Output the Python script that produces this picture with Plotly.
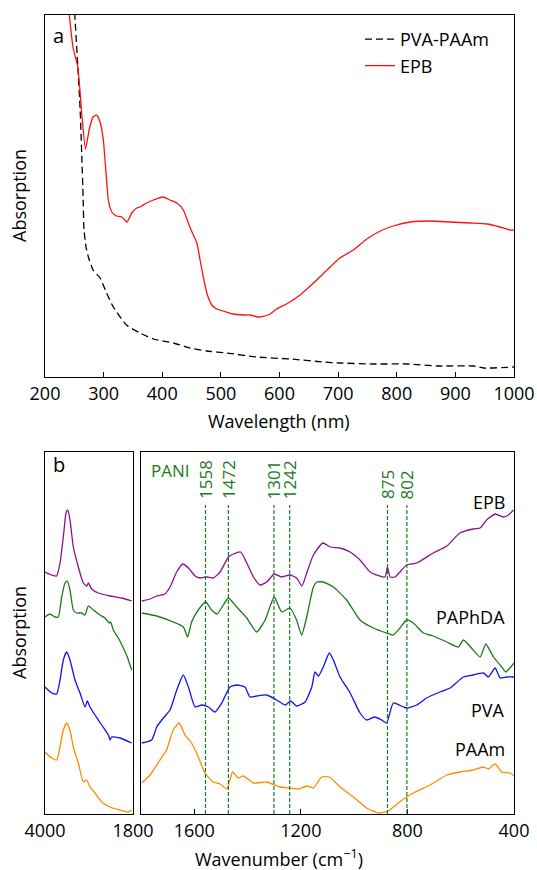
import plotly.graph_objects as go

# ---------------- Panel a: UV-vis absorption (arbitrary units) ----------------
wl_epb = [238, 241.5, 248, 256, 262.6, 269, 276, 282, 288, 294, 299.5, 305, 308, 314,
          322, 331, 340, 348, 356.5, 362, 373.5, 385, 401, 413, 425, 436, 447, 459,
          464.5, 470, 476, 484.5, 493, 504, 521, 538, 550, 564, 581, 595, 612, 635,
          658, 681, 703, 726, 749, 772, 794, 823, 857, 891, 925, 954, 976, 993, 1000]
abs_epb = [387, 362, 329, 310, 264, 228, 249, 260, 262, 255, 237, 197, 177, 165,
           161, 160, 155, 164, 169, 170, 174, 177, 180, 177, 174, 167, 150, 134,
           117, 100, 84, 72, 68, 66, 63, 62, 62, 60, 62, 68, 73, 82,
           94, 107, 119, 127, 138, 146, 151, 155, 156, 155, 154, 153, 150, 147, 147]

wl_gel = [247, 251, 256, 260, 263, 265, 266.5, 270, 274, 282, 294, 305, 316.5, 339,
          362, 385, 419, 447, 476, 510, 561, 618, 675, 703, 760, 817, 874, 931, 948, 1000]
abs_gel = [397, 360, 310, 267, 217, 180, 147, 130, 120, 107, 99, 84, 70, 52,
           44, 38, 34, 29, 26, 24, 20, 18, 15, 14, 13, 13, 11, 11, 9, 10]

# ---------------- Panel b: FTIR (arbitrary units, offset traces) ----------------
# high-wavenumber window 4000-1800 cm-1
wn_hi_epb = [4000, 3833, 3708, 3625, 3542, 3475, 3433, 3375, 3292, 3167, 3042, 2958,
             2917, 2833, 2667, 2375, 2083, 1833]
ab_hi_epb = [242, 239, 238, 251, 277, 301, 304, 294, 267, 247, 231, 228,
             231, 225, 221, 218, 216, 213]

wn_hi_paphda = [4000, 3875, 3750, 3667, 3583, 3500, 3442, 3375, 3292, 3208, 3083, 3000,
                2917, 2792, 2625, 2500, 2392, 2358, 2292, 2167, 2042, 1942, 1833]
ab_hi_paphda = [197, 200, 197, 197, 217, 231, 233, 224, 204, 201, 201, 199,
                208, 204, 199, 196, 191, 192, 184, 176, 166, 157, 144]

wn_hi_pva = [4000, 3833, 3708, 3625, 3542, 3458, 3375, 3250, 3125, 3000, 2942, 2875,
             2750, 2583, 2417, 2375, 2333, 2125, 1833]
ab_hi_pva = [127, 121, 120, 134, 154, 162, 154, 134, 121, 107, 113, 107,
             99, 89, 79, 74, 77, 76, 71]

wn_hi_paam = [4000, 3833, 3708, 3625, 3542, 3458, 3375, 3292, 3167, 3042, 2958, 2875,
              2750, 2583, 2375, 2125, 1917, 1833]
ab_hi_paam = [62, 56, 54, 67, 84, 91, 84, 67, 51, 32, 34, 27,
              21, 12, 7, 4, 2, 4]

# fingerprint window 1800-400 cm-1
wn_lo_epb = [1797, 1766, 1741, 1710, 1691, 1666, 1643, 1622, 1597, 1579, 1553, 1529,
             1503, 1472, 1453, 1426, 1403, 1378, 1353, 1328, 1300, 1272, 1241, 1216,
             1196, 1178, 1153, 1118, 1090, 1053, 1015, 978, 940, 884, 875, 865, 847,
             803, 765, 703, 652, 603, 553, 527, 503, 471, 440, 421, 402]
ab_lo_epb = [213, 215, 218, 220, 227, 242, 250, 246, 238, 236, 237, 236,
             242, 257, 260, 262, 251, 237, 229, 232, 240, 237, 239, 236,
             228, 241, 259, 271, 267, 266, 262, 254, 242, 237, 247, 237, 237,
             249, 251, 261, 268, 281, 285, 286, 294, 300, 297, 299, 304]

wn_lo_paphda = [1797, 1741, 1679, 1641, 1625, 1610, 1585, 1557, 1535, 1514, 1491, 1472,
                1441, 1403, 1366, 1334, 1300, 1272, 1241, 1216, 1197, 1178, 1153, 1140,
                1116, 1078, 1028, 978, 928, 878, 853, 828, 803, 778, 740, 703,
                652, 609, 590, 553, 527, 506, 477, 446, 431, 415, 400]
ab_lo_paphda = [201, 198, 192, 187, 177, 192, 204, 212, 204, 200, 209, 216,
                207, 196, 182, 194, 217, 202, 206, 194, 179, 197, 227, 232,
                232, 227, 214, 194, 186, 181, 179, 186, 194, 191, 181, 178,
                172, 167, 174, 164, 157, 170, 157, 147, 142, 146, 151]

wn_lo_pva = [1797, 1760, 1741, 1716, 1691, 1666, 1641, 1622, 1597, 1572, 1547, 1522,
             1497, 1466, 1441, 1410, 1391, 1366, 1328, 1291, 1259, 1238, 1216, 1184,
             1159, 1147, 1134, 1116, 1093, 1078, 1053, 1015, 978, 953, 922, 897,
             878, 853, 815, 803, 765, 728, 678, 640, 590, 553, 515, 496, 471,
             452, 427, 400]
ab_lo_pva = [71, 74, 87, 96, 104, 124, 139, 127, 107, 109, 107, 102,
             111, 127, 129, 127, 117, 118, 119, 114, 109, 113, 108, 112,
             127, 142, 138, 147, 161, 154, 137, 121, 101, 94, 97, 94,
             91, 111, 107, 106, 109, 116, 122, 126, 137, 139, 141, 137, 146,
             136, 137, 137]

wn_lo_paam = [1797, 1766, 1729, 1704, 1679, 1657, 1635, 1610, 1585, 1560, 1529, 1503,
              1478, 1456, 1435, 1416, 1378, 1328, 1278, 1241, 1209, 1178, 1153, 1122,
              1093, 1053, 1003, 953, 909, 872, 834, 803, 771, 715, 652, 603,
              553, 515, 496, 471, 446, 415, 400]
ab_lo_paam = [31, 39, 54, 64, 84, 91, 79, 71, 57, 41, 32, 30,
              25, 42, 36, 38, 31, 32, 27, 26, 25, 28, 26, 37,
              37, 27, 17, 6, 1, 3, 11, 17, 22, 29, 39, 42,
              44, 47, 45, 50, 42, 41, 38]

pani_bands = [1558, 1472, 1301, 1242, 875, 802]

# ---------------- styling ----------------
W, H = 537, 870
FONT = "Open Sans"
PURPLE, GREEN, BLUE, ORANGE = "#8a118a", "#1c7a1c", "#1010f0", "#ff8c00"


def px_x(p):
    return p / W


def px_y(p):
    return 1 - p / H


fig = go.Figure()

# panel a traces
fig.add_trace(go.Scatter(x=wl_gel, y=abs_gel, mode="lines", name="PVA-PAAm",
                         line=dict(color="black", width=1.3, dash="7px,4px", shape="spline", smoothing=0.5),
                         xaxis="x", yaxis="y"))
fig.add_trace(go.Scatter(x=wl_epb, y=abs_epb, mode="lines", name="EPB",
                         line=dict(color="#ff1010", width=1.3, shape="spline", smoothing=0.5),
                         xaxis="x", yaxis="y"))

# panel b traces
series = [
    (wn_hi_epb, ab_hi_epb, wn_lo_epb, ab_lo_epb, PURPLE),
    (wn_hi_paphda, ab_hi_paphda, wn_lo_paphda, ab_lo_paphda, GREEN),
    (wn_hi_pva, ab_hi_pva, wn_lo_pva, ab_lo_pva, BLUE),
    (wn_hi_paam, ab_hi_paam, wn_lo_paam, ab_lo_paam, ORANGE),
]
for xh, yh, xl, yl, col in series:
    ln = dict(color=col, width=1.3, shape="spline", smoothing=0.5)
    fig.add_trace(go.Scatter(x=xh, y=yh, mode="lines", line=ln, showlegend=False,
                             xaxis="x2", yaxis="y2"))
    fig.add_trace(go.Scatter(x=xl, y=yl, mode="lines", line=ln, showlegend=False,
                             xaxis="x3", yaxis="y3"))

axis_common = dict(showline=True, linecolor="black", linewidth=1.2, mirror=True,
                   showgrid=False, zeroline=False, automargin=False)
tickfont = dict(family=FONT, size=18, color="black")

fig.update_layout(
    width=W, height=H,
    margin=dict(l=0, r=0, t=0, b=0, autoexpand=False),
    paper_bgcolor="white", plot_bgcolor="white",
    font=dict(family=FONT, size=18, color="black"),
    xaxis=dict(domain=[px_x(45), px_x(514)], range=[200, 1000],
               tickvals=[200, 300, 400, 500, 600, 700, 800, 900, 1000],
               ticks="inside", ticklen=5, tickcolor="black", tickfont=tickfont,
               anchor="y", **axis_common),
    yaxis=dict(domain=[px_y(377), px_y(15)], range=[0, 362], showticklabels=False,
               ticks="", anchor="x", **axis_common),
    xaxis2=dict(domain=[px_x(45), px_x(133)], range=[4000, 1800],
                tickvals=[4000, 1800], ticktext=["4000", "1800"],
                ticks="", tickfont=tickfont, anchor="y2", **axis_common),
    yaxis2=dict(domain=[px_y(814), px_y(452)], range=[0, 362], showticklabels=False,
                ticks="", anchor="x2", **axis_common),
    xaxis3=dict(domain=[px_x(141), px_x(514)], range=[1800, 400],
                tickvals=[1600, 1200, 800, 400],
                ticks="inside", ticklen=5, tickcolor="black", tickfont=tickfont,
                anchor="y3", **axis_common),
    yaxis3=dict(domain=[px_y(814), px_y(452)], range=[0, 362], showticklabels=False,
                ticks="", anchor="x3", **axis_common),
    legend=dict(x=px_x(360), y=px_y(21), xanchor="left", yanchor="top",
                bgcolor="rgba(0,0,0,0)", font=dict(family=FONT, size=18),
                tracegroupgap=0, itemwidth=30),
)

# PANI band markers
for wn in pani_bands:
    fig.add_shape(type="line", xref="x3", yref="paper", x0=wn, x1=wn,
                  y0=px_y(814), y1=px_y(505),
                  line=dict(color=GREEN, width=1.2, dash="4px,2px"))
    fig.add_annotation(x=wn, xref="x3", y=px_y(501), yref="paper", text=str(wn),
                       textangle=-90, showarrow=False, xanchor="center", yanchor="bottom",
                       font=dict(family=FONT, size=17, color=GREEN))

annotations = [
    dict(x=px_x(51), y=px_y(35), text="a", xanchor="left", size=20),
    dict(x=px_x(51), y=px_y(465), text="b", xanchor="left", size=20),
    dict(x=px_x(149), y=px_y(470), text="PANI", xanchor="left", size=17, color=GREEN),
    dict(x=px_x(507), y=px_y(502), text="EPB", xanchor="right", size=18),
    dict(x=px_x(507), y=px_y(617), text="PAPhDA", xanchor="right", size=18),
    dict(x=px_x(507), y=px_y(710), text="PVA", xanchor="right", size=18),
    dict(x=px_x(507), y=px_y(749), text="PAAm", xanchor="right", size=18),
    dict(x=px_x(279), y=px_y(421), text="Wavelength (nm)", xanchor="center", size=18),
    dict(x=px_x(279), y=px_y(858), text="Wavenumber (cm<sup>−1</sup>)", xanchor="center", size=18),
]
for a in annotations:
    fig.add_annotation(x=a["x"], y=a["y"], xref="paper", yref="paper", text=a["text"],
                       showarrow=False, xanchor=a["xanchor"], yanchor="middle",
                       font=dict(family=FONT, size=a["size"], color=a.get("color", "black")))

for yc in (196, 633):
    fig.add_annotation(x=px_x(19), y=px_y(yc), xref="paper", yref="paper", text="Absorption",
                       textangle=-90, showarrow=False, xanchor="center", yanchor="middle",
                       font=dict(family=FONT, size=18, color="black"))

fig.write_html("out.html")
